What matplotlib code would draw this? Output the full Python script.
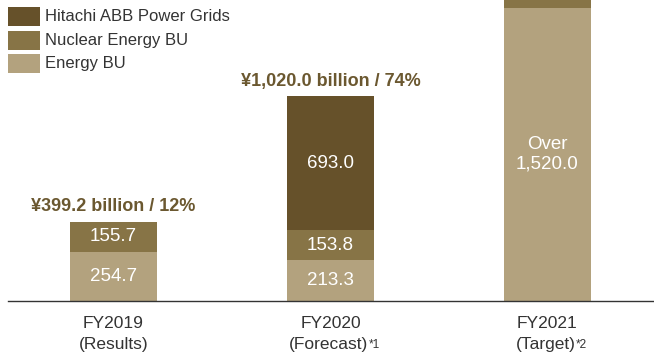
import matplotlib
matplotlib.use("Agg")
import matplotlib.pyplot as plt
from matplotlib.patches import Rectangle
import numpy as np

plt.rcParams["font.family"] = ["Liberation Sans", "DejaVu Sans"]

# Data (¥ billion)
years = ["FY2019", "FY2020", "FY2021"]
year_notes = ["(Results)", "(Forecast)", "(Target)"]
footnotes = ["", "*1", "*2"]
energy_bu = [254.7, 213.3, 1520.0]
nuclear_bu = [155.7, 153.8, 150.0]
power_grids = [0.0, 693.0, 0.0]
energy_labels = ["254.7", "213.3", "Over\n1,520.0"]
nuclear_labels = ["155.7", "153.8", ""]
grid_labels = ["", "693.0", ""]
total_labels = ["¥399.2 billion / 12%", "¥1,020.0 billion / 74%", ""]
series_names = ["Hitachi ABB Power Grids", "Nuclear Energy BU", "Energy BU"]

c_grid = "#66512a"
c_nuc = "#877446"
c_energy = "#b3a27e"
c_title = "#6b5830"
c_text = "#333333"

W, H = 654, 356
fig = plt.figure(figsize=(W / 100, H / 100), dpi=100)
ax = fig.add_axes([8 / W, (H - 301) / H, 646 / W, 301 / H])

x = np.arange(len(years))
width = 0.40
e = np.array(energy_bu)
n = np.array(nuclear_bu)
g = np.array(power_grids)

ax.bar(x, e, width, color=c_energy, linewidth=0)
ax.bar(x, n, width, bottom=e, color=c_nuc, linewidth=0)
ax.bar(x, g, width, bottom=e + n, color=c_grid, linewidth=0)

val_fs = 13.5
for i in range(len(x)):
    ax.text(x[i], e[i] / 2, energy_labels[i], ha="center", va="center",
            color="white", fontsize=val_fs, linespacing=1.15)
    if nuclear_labels[i]:
        ax.text(x[i], e[i] + n[i] / 2, nuclear_labels[i], ha="center", va="center",
                color="white", fontsize=val_fs)
    if grid_labels[i]:
        ax.text(x[i], e[i] + n[i] + g[i] / 2, grid_labels[i], ha="center", va="center",
                color="white", fontsize=val_fs)
    if total_labels[i]:
        ax.annotate(total_labels[i], (x[i], e[i] + n[i] + g[i]), xytext=(0, 5),
                    textcoords="offset points", ha="center", va="bottom",
                    color=c_title, fontsize=13, fontweight="bold")

ax.set_xlim(-0.486, 2.491)
ax.set_ylim(0, 1560)
ax.set_xticks([])
ax.set_yticks([])
for s in ["top", "left", "right"]:
    ax.spines[s].set_visible(False)
ax.spines["bottom"].set_color(c_text)
ax.spines["bottom"].set_linewidth(1.0)

# Category labels under each bar, with footnote markers
xt = ax.get_xaxis_transform()
note_texts = []
for i in range(len(x)):
    ax.annotate(years[i], (x[i], 0), xycoords=xt, xytext=(0, -16.5),
                textcoords="offset points", ha="center", va="center",
                fontsize=12.5, color=c_text, annotation_clip=False)
    dx = -1.5 if footnotes[i] else 0
    t = ax.annotate(year_notes[i], (x[i], 0), xycoords=xt, xytext=(dx, -31.5),
                    textcoords="offset points", ha="center", va="center",
                    fontsize=12.5, color=c_text, annotation_clip=False)
    note_texts.append(t)

fig.canvas.draw()
renderer = fig.canvas.get_renderer()
for t, fn in zip(note_texts, footnotes):
    if not fn:
        continue
    bb = t.get_window_extent(renderer)
    fig.text((bb.x1 + 0.5) / W, (bb.y1 - 1.5) / H, fn, ha="left", va="top",
             fontsize=8.5, color=c_text)

# Legend drawn as swatches in figure pixel space
legend_colors = [c_grid, c_nuc, c_energy]
for k, (name, col) in enumerate(zip(series_names, legend_colors)):
    top = 7 + k * 23.5
    fig.patches.append(Rectangle((8 / W, (H - top - 19) / H), 32 / W, 19 / H,
                                 transform=fig.transFigure, color=col, linewidth=0))
    fig.text(45 / W, (H - top - 9.5) / H, name, ha="left", va="center",
             fontsize=12, color=c_text)

fig.savefig("out.png", dpi=100)
